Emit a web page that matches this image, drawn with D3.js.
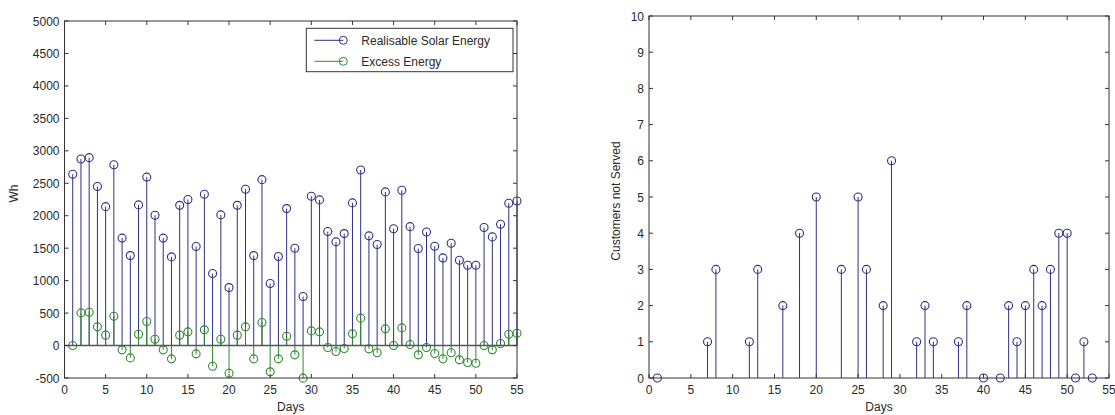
<!DOCTYPE html>
<html><head><meta charset="utf-8">
<script src="https://cdn.jsdelivr.net/npm/d3@7/dist/d3.min.js"></script>
<style>body{margin:0;background:#fff}svg{display:block}text{font-family:"Liberation Sans",Arial,sans-serif;fill:#2a2a2a}</style>
</head><body>
<svg id="c" width="1115" height="415"></svg>
<script>
const days = d3.range(1, 56);
const solarEnergy = [2640,2875,2895,2450,2140,2785,1655,1386,2167,2595,2008,1655,1366,2160,2250,
  1525,2331,1109,2013,893,2160,2408,1386,2556,955,1371,2110,1500,755,2300,
  2244,1756,1597,1725,2198,2705,1690,1556,2367,1800,2393,1832,1494,1750,1530,
  1350,1577,1315,1238,1238,1818,1674,1869,2193,2228];
const excessEnergy = [0,503,514,288,160,452,-66,-190,175,370,98,-66,-205,160,211,
  -128,242,-318,98,-426,160,288,-205,355,-405,-205,144,-143,-502,226,
  211,-30,-92,-46,180,422,-51,-112,257,0,272,15,-143,-30,-123,
  -205,-112,-220,-261,-272,0,-66,31,175,190];
const unservedDays = [1,7,8,12,13,16,18,20,23,25,26,28,29,32,33,34,37,38,40,42,43,44,45,46,47,48,49,50,51,52,53];
const unservedCounts = [0,1,3,1,3,2,4,5,3,5,3,2,6,1,2,1,1,2,0,0,2,1,2,3,2,3,4,4,0,1,0];
const xTicks = d3.range(0, 56, 5);
const yTicksLeft = d3.range(-500, 5001, 500);
const yTicksRight = d3.range(0, 11, 1);
const legendLabels = ["Realisable Solar Energy", "Excess Energy"];

const BLUE = "#2f2f86", GREEN = "#2f8a2f", AXIS = "#333";
const FS = 12;
const svg = d3.select("#c");

function frame(g, x, y, xt, yt, w, h) {
  const tl = 4;
  xt.forEach(t => {
    g.append("line").attr("x1", x(t)).attr("x2", x(t)).attr("y1", h).attr("y2", h - tl).attr("stroke", AXIS);
    g.append("line").attr("x1", x(t)).attr("x2", x(t)).attr("y1", 0).attr("y2", tl).attr("stroke", AXIS);
    g.append("text").attr("x", x(t)).attr("y", h + 16).attr("text-anchor", "middle").attr("font-size", FS).text(t);
  });
  yt.forEach(t => {
    g.append("line").attr("x1", 0).attr("x2", tl).attr("y1", y(t)).attr("y2", y(t)).attr("stroke", AXIS);
    g.append("line").attr("x1", w).attr("x2", w - tl).attr("y1", y(t)).attr("y2", y(t)).attr("stroke", AXIS);
    g.append("text").attr("x", -5).attr("y", y(t) + 4.5).attr("text-anchor", "end").attr("font-size", FS).text(t);
  });
  g.append("rect").attr("x", 0).attr("y", 0).attr("width", w).attr("height", h)
    .attr("fill", "none").attr("stroke", AXIS).attr("stroke-width", 1);
}

function stems(g, x, y, xs, vs, color) {
  xs.forEach((d, i) => {
    g.append("line").attr("x1", x(d)).attr("x2", x(d)).attr("y1", y(0)).attr("y2", y(vs[i]))
      .attr("stroke", color).attr("stroke-width", 1);
  });
  xs.forEach((d, i) => {
    g.append("circle").attr("cx", x(d)).attr("cy", y(vs[i])).attr("r", 4)
      .attr("fill", "none").attr("stroke", color).attr("stroke-width", 1.1);
  });
}

// Left chart
{
  const L = 64.5, T = 21, W = 452.5, H = 357;
  const g = svg.append("g").attr("transform", `translate(${L},${T})`);
  const x = d3.scaleLinear().domain([0, 55]).range([0, W]);
  const y = d3.scaleLinear().domain([-500, 5000]).range([H, 0]);
  stems(g, x, y, days, solarEnergy, BLUE);
  stems(g, x, y, days, excessEnergy, GREEN);
  g.append("line").attr("x1", 0).attr("x2", W).attr("y1", y(0)).attr("y2", y(0)).attr("stroke", "#555").attr("stroke-width", 1.5);
  frame(g, x, y, xTicks, yTicksLeft, W, H);
  g.append("text").attr("x", W / 2).attr("y", H + 33).attr("text-anchor", "middle").attr("font-size", FS).text("Days");
  g.append("text").attr("transform", `translate(${-47},${H / 2 - 6}) rotate(-90)`).attr("text-anchor", "middle").attr("font-size", FS).text("Wh");
  const lg = g.append("g").attr("transform", `translate(${306.3 - L},${28.3 - T})`);
  lg.append("rect").attr("width", 206.7).attr("height", 43.4).attr("fill", "#fff").attr("stroke", AXIS);
  [BLUE, GREEN].forEach((c, i) => {
    const yy = 12 + i * 21;
    lg.append("line").attr("x1", 8).attr("x2", 37).attr("y1", yy).attr("y2", yy).attr("stroke", c);
    lg.append("circle").attr("cx", 37).attr("cy", yy).attr("r", 4).attr("fill", "none").attr("stroke", c);
    lg.append("text").attr("x", 55).attr("y", yy + 4.5).attr("font-size", FS).text(legendLabels[i]);
  });
}

// Right chart
{
  const L = 649, T = 16, W = 460, H = 362;
  const g = svg.append("g").attr("transform", `translate(${L},${T})`);
  const x = d3.scaleLinear().domain([0, 55]).range([0, W]);
  const y = d3.scaleLinear().domain([0, 10]).range([H, 0]);
  stems(g, x, y, unservedDays, unservedCounts, BLUE);
  frame(g, x, y, xTicks, yTicksRight, W, H);
  g.append("text").attr("x", W / 2).attr("y", H + 33).attr("text-anchor", "middle").attr("font-size", FS).text("Days");
  g.append("text").attr("transform", `translate(${-29},${H / 2 + 4}) rotate(-90)`).attr("text-anchor", "middle").attr("font-size", FS).text("Customers not Served");
}
</script>
</body></html>
